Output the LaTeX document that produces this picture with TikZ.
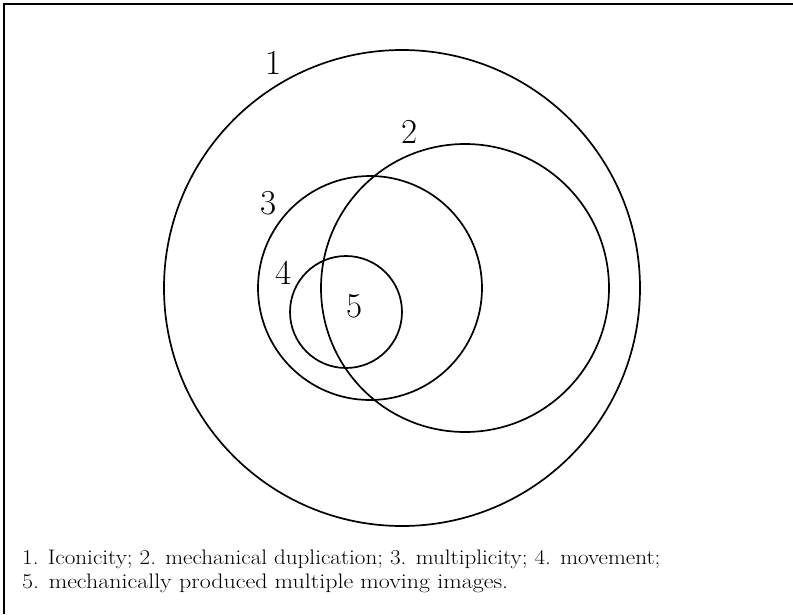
\documentclass[tikz,border=0pt]{standalone}
\usepackage{graphicx}
\begin{document}
\begin{tikzpicture}[x=1pt,y=-1pt,
  ring/.style={draw=black,line width=1.7pt,circle,inner sep=0pt,outer sep=0pt},
  num/.style={inner sep=0pt,font=\fontsize{35}{40}\selectfont},
  captxt/.style={inner sep=0pt,anchor=base west,font=\fontsize{21}{24}\selectfont}]
\useasboundingbox (0,0) rectangle (793,614);
\coordinate (fbl) at (4,614);
\coordinate (ftl) at (4,4);
\coordinate (ftr) at (793,4);
\draw[line width=1.3pt] (fbl) -- (ftl) -- (ftr);
\node[ring,minimum size=476pt] (c1) at (402,288) {};
\node[ring,minimum size=288pt] (c2) at (465,288) {};
\node[ring,minimum size=224pt] (c3) at (370,288) {};
\node[ring,minimum size=112pt] (c4) at (346,312) {};
\node[num] (n1) at (274,63) {1};
\node[num] (n2) at (410,132) {2};
\node[num] (n3) at (269,203) {3};
\node[num] (n4) at (284,273) {4};
\node[num] (n5) at (355,306) {5};
\node[captxt] (l1) at (22,564) {\scalebox{1.1}[1]{1. Iconicity; 2. mechanical duplication; 3. multiplicity; 4. movement;}};
\node[captxt] (l2) at (22,588) {\scalebox{1.14}[1]{5. mechanically produced multiple moving images.}};
\end{tikzpicture}
\end{document}
